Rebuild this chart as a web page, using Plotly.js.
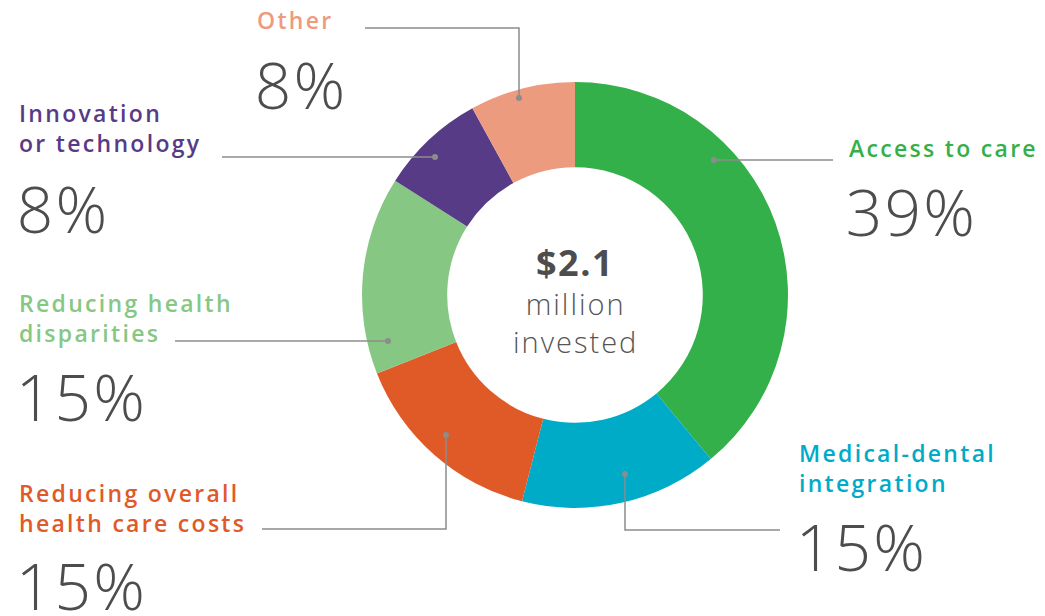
<!DOCTYPE html>
<html>
<head>
<meta charset="utf-8">
<script src="https://cdn.plot.ly/plotly-3.0.1.min.js"></script>
<style>
  html, body { margin: 0; padding: 0; background: #fff; }
  #plot { width: 1045px; height: 616px; }
</style>
</head>
<body>
<div id="plot"></div>
<script>
// 数据
const categories = ['Access to care', 'Medical-dental integration', 'Reducing overall health care costs',
                    'Reducing health disparities', 'Innovation or technology', 'Other'];
const labelLines = ['Access to care', 'Medical-dental<br>integration', 'Reducing overall<br>health care costs',
                    'Reducing health<br>disparities', 'Innovation<br>or technology', 'Other'];
const shares = [39, 15, 15, 15, 8, 8];
const sliceColors = ['#34b04a', '#00abc8', '#e05a28', '#86c784', '#573b86', '#ed9b7f'];
const centerAmount = '$2.1';
const centerCaption = 'million<br>invested';

const W = 1045, H = 616;
const px = x => x / W;
const py = y => 1 - y / H;
const FONT = '"Open Sans", Lato, sans-serif';

// 标签位置（像素）: 名称, 百分比, 引线折点
const placements = [
    { lx: 847, ly: 148, nx: 847, ny: 212, path: [[833, 160], [714, 160]] },
    { lx: 797, ly: 468, nx: 797, ny: 546, path: [[780, 530], [625, 530], [625, 474]] },
    { lx: 17,  ly: 508, nx: 17,  ny: 585, path: [[262, 529], [446, 529], [446, 435]] },
    { lx: 17,  ly: 318, nx: 17,  ny: 397, path: [[175, 341], [388, 341]] },
    { lx: 17,  ly: 128, nx: 17,  ny: 208, path: [[222, 157], [435, 157]] },
    { lx: 255, ly: 20,  nx: 255, ny: 84,  path: [[365, 28], [519, 28], [519, 98]] }
];

// 字距（原图字体比 Open Sans 宽）
const css = [];
const spacing = (idx, v) => css.push('g.annotation[data-index="' + idx + '"] text { letter-spacing: ' + v + 'px; }');

const trace = {
    type: 'pie',
    values: shares,
    labels: categories,
    sort: false,
    direction: 'clockwise',
    rotation: 0,
    hole: 0.6,
    textinfo: 'none',
    hoverinfo: 'label+percent',
    marker: { colors: sliceColors, line: { width: 0 } },
    domain: { x: [px(362), px(788)], y: [py(508), py(82)] },
    showlegend: false
};

const annotations = [];
const shapes = [];
placements.forEach((p, i) => {
    spacing(annotations.length, 2.3);
    annotations.push({
        xref: 'paper', yref: 'paper', x: px(p.lx), y: py(p.ly),
        xanchor: 'left', yanchor: 'middle', align: 'left', showarrow: false,
        text: labelLines[i],
        font: { family: FONT, size: 23, weight: 600, color: sliceColors[i] }
    });
    spacing(annotations.length, 2.2);
    annotations.push({
        xref: 'paper', yref: 'paper', x: px(p.nx), y: py(p.ny),
        xanchor: 'left', yanchor: 'middle', showarrow: false,
        text: shares[i] + '%',
        font: { family: FONT, size: 64, weight: 300, color: '#4d4d4d' }
    });
    const d = p.path.map((pt, k) => (k ? 'L' : 'M') + px(pt[0]) + ',' + py(pt[1])).join(' ');
    shapes.push({ type: 'path', xref: 'paper', yref: 'paper', path: d,
                  line: { color: '#8c8c8c', width: 1.5 } });
    const end = p.path[p.path.length - 1];
    shapes.push({ type: 'circle', xref: 'paper', yref: 'paper',
                  x0: px(end[0] - 3), x1: px(end[0] + 3), y0: py(end[1] + 3), y1: py(end[1] - 3),
                  fillcolor: '#8c8c8c', line: { width: 0 } });
});

spacing(annotations.length, 1.5);
annotations.push({
    xref: 'paper', yref: 'paper', x: px(575), y: py(262), xanchor: 'center', yanchor: 'middle',
    showarrow: false, text: centerAmount,
    font: { family: FONT, size: 36, weight: 700, color: '#4d4d4d' }
});
spacing(annotations.length, 2);
annotations.push({
    xref: 'paper', yref: 'paper', x: px(575), y: py(322), xanchor: 'center', yanchor: 'middle',
    showarrow: false, text: centerCaption,
    font: { family: FONT, size: 29, weight: 300, color: '#555555' }
});

const styleEl = document.createElement('style');
styleEl.textContent = css.join('\n');
document.head.appendChild(styleEl);

const layout = {
    width: W, height: H,
    margin: { l: 0, r: 0, t: 0, b: 0 },
    paper_bgcolor: '#ffffff',
    annotations: annotations,
    shapes: shapes
};

Plotly.newPlot('plot', [trace], layout, { displayModeBar: false });
</script>
</body>
</html>
